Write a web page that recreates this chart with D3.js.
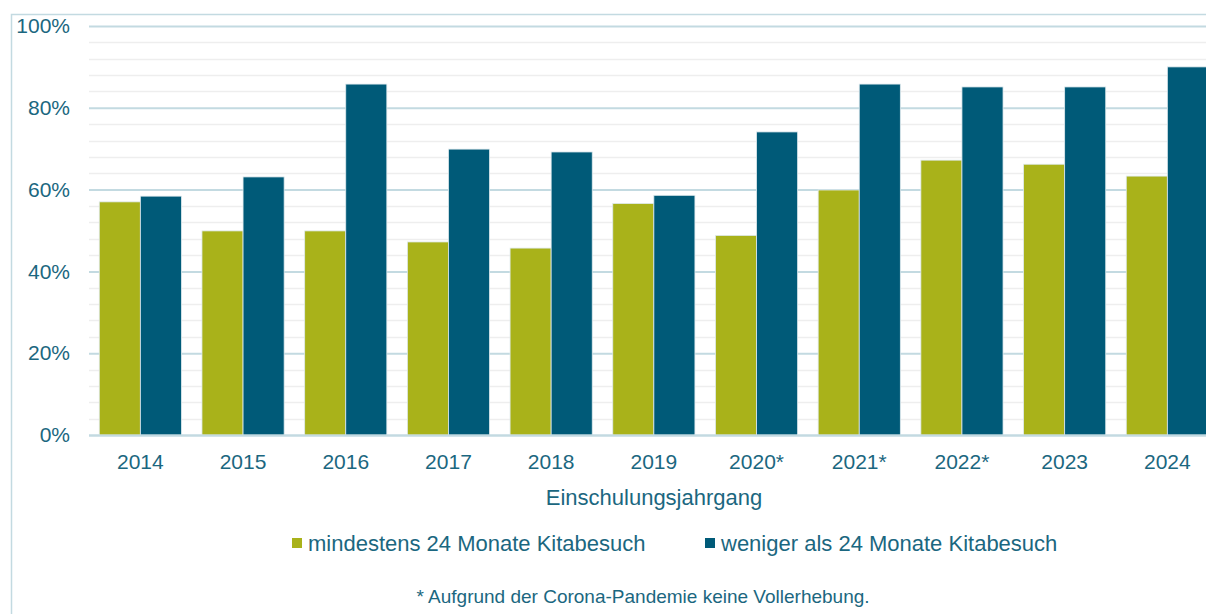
<!DOCTYPE html>
<html>
<head>
<meta charset="utf-8">
<script src="https://cdn.jsdelivr.net/npm/d3@7"></script>
<style>
  body { margin: 0; background: #fff; }
  svg { display: block; font-family: "Liberation Sans", Arial, sans-serif; }
  .tick text { fill: #1b6780; }
</style>
</head>
<body>
<svg id="chart" width="1206" height="614"></svg>
<script>
"use strict";

// Einschulungsjahrgang
let years = ['2014', '2015', '2016', '2017', '2018', '2019', '2020*', '2021*', '2022*', '2023', '2024'];
// share in percent
let mindestens24 = [57.0, 49.9, 49.9, 47.2, 45.7, 56.6, 48.8, 59.9, 67.2, 66.2, 63.3];
let weniger24 = [58.4, 63.1, 85.8, 69.9, 69.2, 58.6, 74.1, 85.8, 85.1, 85.1, 90.0];
let seriesNames = ['mindestens 24 Monate Kitabesuch', 'weniger als 24 Monate Kitabesuch'];
let seriesColors = ['#a9b21a', '#005a78'];
let yTicks = [0, 20, 40, 60, 80, 100];

let textColor = '#1b6780';
let svg = d3.select('#chart');

// chart frame (cut off at the right and bottom)
svg.append('path')
  .attr('d', 'M11.5,614 V14.5 H1206')
  .attr('fill', 'none')
  .attr('stroke', '#c3dae1')
  .attr('stroke-width', 1.5);

let margin = {left: 89, top: 26, bottom: 435};
let x = d3.scaleBand()
  .domain(years)
  .range([margin.left, margin.left + 102.7 * years.length])
  .paddingInner(0.2)
  .paddingOuter(0.1);
let sub = d3.scaleBand()
  .domain([0, 1])
  .range([0, x.bandwidth()]);
let y = d3.scaleLinear()
  .domain([0, 100])
  .range([margin.bottom, margin.top]);

let plotRight = margin.left + 102.7 * years.length;

// minor gridlines every 4%
svg.append('g')
  .selectAll('line')
  .data(d3.range(4, 100, 4).filter(v => v % 20 !== 0))
  .join('line')
    .attr('x1', margin.left)
    .attr('x2', plotRight)
    .attr('y1', v => Math.round(y(v)) + 0.5)
    .attr('y2', v => Math.round(y(v)) + 0.5)
    .attr('stroke', '#eeeeee')
    .attr('stroke-width', 1.5);

// major gridlines + y labels
let yAxis = svg.append('g')
  .attr('transform', `translate(${margin.left},0)`)
  .call(d3.axisLeft(y)
    .tickValues(yTicks)
    .tickSize(-(plotRight - margin.left))
    .tickPadding(19)
    .tickFormat(d => d + '%'));
yAxis.select('.domain').remove();
yAxis.selectAll('.tick line')
  .attr('stroke', '#c3dae1')
  .attr('stroke-width', 2);
yAxis.selectAll('.tick text')
  .style('font-size', '21px');

// bars
let groups = svg.append('g')
  .selectAll('g')
  .data(years.map((yr, i) => ({year: yr, values: [mindestens24[i], weniger24[i]]})))
  .join('g')
    .attr('transform', d => `translate(${x(d.year)},0)`);
groups.selectAll('rect')
  .data(d => d.values)
  .join('rect')
    .attr('x', (v, i) => sub(i))
    .attr('y', v => y(v))
    .attr('width', sub.bandwidth())
    .attr('height', v => y(0) - y(v))
    .attr('fill', (v, i) => seriesColors[i])
    .attr('stroke', '#dfeaee')
    .attr('stroke-width', 0.8);

// x axis
let xAxis = svg.append('g')
  .attr('transform', `translate(0,${margin.bottom})`)
  .call(d3.axisBottom(x).tickSize(0).tickPadding(19));
xAxis.select('.domain')
  .attr('d', `M${margin.left},0.5H${plotRight}`)
  .attr('stroke', '#c3dae1')
  .attr('stroke-width', 2);
xAxis.selectAll('.tick text')
  .style('font-size', '21px');

// axis title
svg.append('text')
  .attr('x', 654)
  .attr('y', 505)
  .attr('text-anchor', 'middle')
  .attr('fill', textColor)
  .style('font-size', '22px')
  .text('Einschulungsjahrgang');

// legend
let legendX = [292, 705];
let legend = svg.append('g')
  .selectAll('g')
  .data(seriesNames)
  .join('g')
    .attr('transform', (d, i) => `translate(${legendX[i]},543)`);
legend.append('rect')
  .attr('x', 0)
  .attr('y', -5)
  .attr('width', 10)
  .attr('height', 10)
  .attr('fill', (d, i) => seriesColors[i]);
legend.append('text')
  .attr('x', 16)
  .attr('y', 8)
  .attr('fill', textColor)
  .style('font-size', '22px')
  .text(d => d);

// footnote
svg.append('text')
  .attr('x', 643)
  .attr('y', 603)
  .attr('text-anchor', 'middle')
  .attr('fill', textColor)
  .style('font-size', '19px')
  .text('* Aufgrund der Corona-Pandemie keine Vollerhebung.');
</script>
</body>
</html>
